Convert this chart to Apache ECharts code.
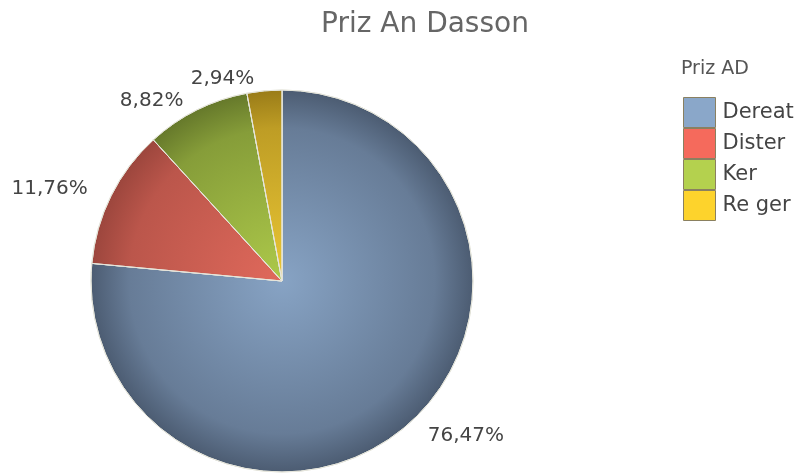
<!DOCTYPE html>
<html>
<head>
<meta charset="utf-8">
<script src="https://cdn.jsdelivr.net/npm/echarts@6/dist/echarts.min.js"></script>
<style>
  html, body { margin: 0; padding: 0; background: #fff; }
  #main { width: 801px; height: 473px; }
</style>
</head>
<body>
<div id="main"></div>
<script>
// donnees du graphique
var categories = ['Dereat', 'Dister', 'Ker', 'Re ger']
var values = [26, 4, 3, 1]
var percentLabels = ['76,47%', '11,76%', '8,82%', '2,94%']

// couleurs : legende (plein) et part (centre -> bord)
var legendColors = ['#8aa7c9', '#f56a5c', '#b4d14e', '#fdd32c']
var innerColors = ['#87a3c4', '#e0695b', '#adc94a', '#eac634']
var outerColors = ['#4c5c72', '#9c463d', '#66792b', '#9a7c18']
// longueur du trait (cache) pour placer chaque etiquette
var labelLens = [18, 16, 10, 12]

var cx = 282, cy = 281, r = 191

var myChart = echarts.init(document.getElementById('main'))

var seriesData = categories.map(function (name, i) {
  return {
    name: name,
    value: values[i],
    label: { formatter: percentLabels[i] },
    labelLine: { length: labelLens[i], length2: i === 0 ? 0 : 4 },
    itemStyle: {
      color: {
        type: 'radial', x: cx, y: cy, r: r, global: true,
        colorStops: [
          { offset: 0, color: innerColors[i] },
          { offset: 0.8, color: echarts.color.lerp(0.55, [innerColors[i], outerColors[i]]) },
          { offset: 1, color: outerColors[i] }
        ]
      }
    }
  }
})

var option = {
  backgroundColor: '#fff',
  color: legendColors,
  title: [
    {
      text: 'Priz An Dasson',
      left: 420, top: 6, textAlign: 'center',
      textStyle: { fontFamily: 'DejaVu Sans', fontSize: 28, fontWeight: 'normal', color: '#666' }
    },
    {
      text: 'Priz AD',
      left: 676, top: 55,
      textStyle: { fontFamily: 'DejaVu Sans', fontSize: 19, fontWeight: 'normal', color: '#555' }
    }
  ],
  legend: {
    orient: 'vertical',
    left: 678, top: 92,
    itemWidth: 32, itemHeight: 30, itemGap: 0,
    icon: 'rect',
    data: categories.map(function (name, i) {
      return { name: name, itemStyle: { color: legendColors[i], borderColor: '#8a8060', borderWidth: 1 } }
    }),
    textStyle: { fontFamily: 'DejaVu Sans', fontSize: 21, color: '#444', padding: [0, 0, 0, 2] }
  },
  series: [
    {
      type: 'pie',
      center: [cx, cy],
      radius: r,
      startAngle: 90,
      clockwise: true,
      silent: true,
      itemStyle: { borderColor: '#e6e6dc', borderWidth: 1 },
      label: {
        show: true,
        position: 'outside',
        fontFamily: 'DejaVu Sans',
        fontSize: 20,
        color: '#444'
      },
      labelLine: { show: false },
      data: seriesData
    }
  ]
}

myChart.setOption(option)
</script>
</body>
</html>
